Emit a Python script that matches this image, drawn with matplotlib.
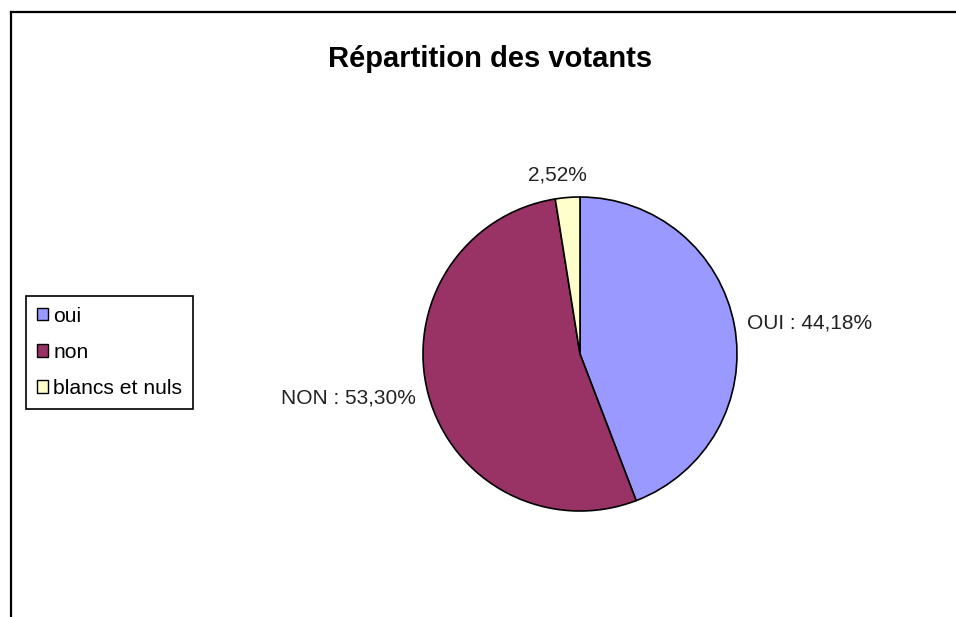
import matplotlib.pyplot as plt
from matplotlib.lines import Line2D
from matplotlib.patches import Patch

plt.rcParams['font.family'] = ['Liberation Sans', 'DejaVu Sans']

categories = ['oui', 'non', 'blancs et nuls']
label_names = ['OUI', 'NON', '']
values = [44.18, 53.30, 2.52]
colors = ['#9999FF', '#993366', '#FFFFCC']

W, H = 956, 617
fig = plt.figure(figsize=(W / 100, H / 100), dpi=100)

# frame lines (top and left only, like the cropped Excel chart)
fig.add_artist(Line2D([11 / W, 1], [1 - 12 / H, 1 - 12 / H], color='black', lw=1.6))
fig.add_artist(Line2D([11 / W, 11 / W], [0, 1 - 12 / H], color='black', lw=1.6))

fig.text(490 / W, 1 - 59 / H, 'Répartition des votants', ha='center', va='center',
         fontsize=21, fontweight='bold')

# pie axes, 1 data unit = 1 pixel
cx, cy, half = 580, 354, 220
ax = fig.add_axes([(cx - half) / W, (H - cy - half) / H, 2 * half / W, 2 * half / H])

labels = []
for n, v in zip(label_names, values):
    s = f'{v:.2f}%'.replace('.', ',')
    labels.append(f'{n} : {s}' if n else s)

wedges, texts = ax.pie(values, colors=colors, labels=labels, startangle=90,
                       counterclock=False, radius=157, labeldistance=1.08,
                       wedgeprops=dict(edgecolor='black', linewidth=1.2),
                       textprops=dict(fontsize=15, color='#222222'))
texts[2].set_ha('center')
texts[2].set_va('bottom')
texts[2].set_x(texts[2].get_position()[0] - 9)
ax.set_xlim(-half, half)
ax.set_ylim(-half, half)
ax.set_aspect('equal')
ax.axis('off')

handles = [Patch(facecolor=c, edgecolor='black', linewidth=1) for c in colors]
leg = fig.legend(handles, categories, loc='upper left',
                 bbox_to_anchor=(26 / W, 1 - 296 / H), fontsize=15.2,
                 fancybox=False, edgecolor='black', framealpha=1,
                 handlelength=0.55, handleheight=0.55, handletextpad=0.25,
                 labelspacing=0.82, borderpad=0.5, borderaxespad=0)
leg.get_frame().set_linewidth(1.2)

fig.savefig('out.png', dpi=100)
